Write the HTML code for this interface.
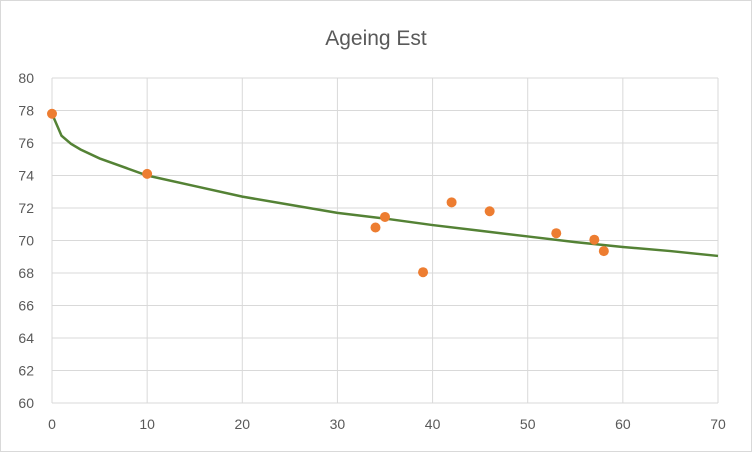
<!DOCTYPE html>
<html><head><meta charset="utf-8"><style>
html,body{margin:0;padding:0;background:#fff;}
svg{display:block;font-family:"Liberation Sans",sans-serif;}
</style></head><body>
<svg id="chart" width="752" height="452">
<rect x="0.5" y="0.5" width="751" height="451" fill="#fff" stroke="#d9d9d9"/>
<text x="376" y="45" text-anchor="middle" font-size="21" fill="#595959">Ageing Est</text>
<g id="grid"></g><g id="axes"></g><g id="series"></g>
</svg>
<script>
const xTicks=[0,10,20,30,40,50,60,70];
const yTicks=[60,62,64,66,68,70,72,74,76,78,80];
const pointX=[0,10,34,35,39,42,46,53,57,58];
const pointY=[77.8,74.1,70.8,71.45,68.05,72.35,71.8,70.45,70.05,69.35];
const lineX=[0,1,2,3,5,10,15,20,25,30,35,40,45,50,55,60,65,70];
const lineY=[77.8,76.45,75.95,75.6,75.05,74.0,73.35,72.7,72.2,71.7,71.35,70.95,70.6,70.25,69.9,69.6,69.35,69.05];
const X0=52,X1=718,Y0=403,Y1=78;
const sx=v=>X0+(v-0)/(70-0)*(X1-X0);
const sy=v=>Y0-(v-60)/(80-60)*(Y0-Y1);
const NS="http://www.w3.org/2000/svg";
const grid=document.getElementById('grid'),axes=document.getElementById('axes'),ser=document.getElementById('series');
function mk(tag,attrs,parent){const e=document.createElementNS(NS,tag);for(const k in attrs)e.setAttribute(k,attrs[k]);parent.appendChild(e);return e;}
yTicks.forEach(t=>{
 const l=mk('line',{x1:X0,x2:X1,y1:sy(t),y2:sy(t),stroke:'#d9d9d9','stroke-width':1},grid);
 
 
 const tx=mk('text',{x:X0-18,y:sy(t)+5,'text-anchor':'end','font-size':14,fill:'#595959'},axes);
 tx.textContent=t;
 
 
});
xTicks.forEach(t=>{
 const l=mk('line',{x1:sx(t),x2:sx(t),y1:Y1,y2:Y0,stroke:'#d9d9d9','stroke-width':1},grid);
 
 
 const tx=mk('text',{x:sx(t),y:Y0+26,'text-anchor':'middle','font-size':14,fill:'#595959'},axes);
 tx.textContent=t;
 
 
});
const pl=mk('polyline',{points:lineX.map((x,i)=>sx(x)+','+sy(lineY[i])).join(' '),fill:'none',stroke:'#548235','stroke-width':2.5},ser);


pointX.forEach((x,i)=>{
 const c=mk('circle',{cx:sx(x),cy:sy(pointY[i]),r:5,fill:'#ed7d31'},ser);
 
 
});
</script>
</body></html>
